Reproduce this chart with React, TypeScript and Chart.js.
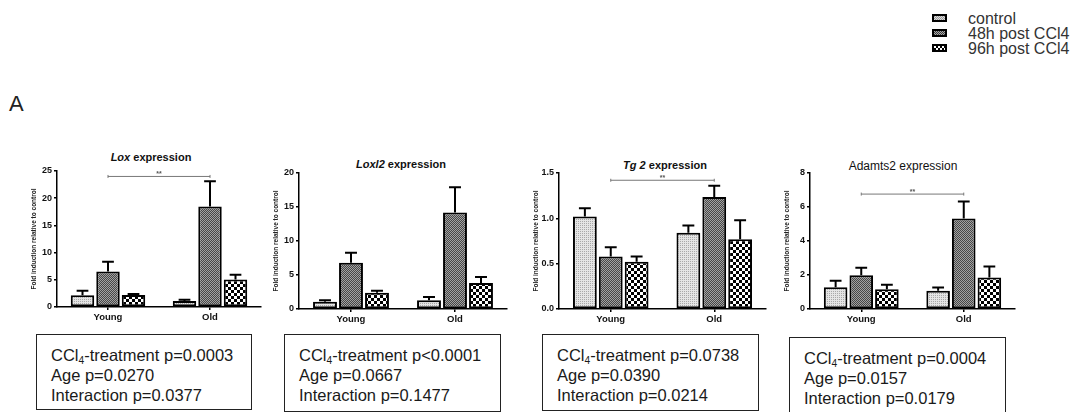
import React, { useEffect, useRef } from 'react';
import { Chart, registerables } from 'chart.js';

Chart.register(...registerables);

const GROUPS = ['Young', 'Old'];
const SERIES = ['control', '48h post CCl4', '96h post CCl4'];
const Y_TITLE = 'Fold induction relative to control';

// Lox
const LOX_CONTROL = [2.14, 1.1];
const LOX_CONTROL_SEM = [0.85, 0.25];
const LOX_48H = [6.54, 18.46];
const LOX_48H_SEM = [1.76, 4.64];
const LOX_96H = [2.2, 5.07];
const LOX_96H_SEM = [0.2, 0.86];
const LOX_Y = [25, 5, 0]; // max, step, decimals
const LOX_SIG = 24;

// Loxl2
const LOXL2_CONTROL = [1.08, 1.27];
const LOXL2_CONTROL_SEM = [0.19, 0.49];
const LOXL2_48H = [6.81, 14.2];
const LOXL2_48H_SEM = [1.47, 3.7];
const LOXL2_96H = [2.4, 3.82];
const LOXL2_96H_SEM = [0.3, 0.88];
const LOXL2_Y = [20, 5, 0];

// Tg 2
const TG2_CONTROL = [1.02, 0.84];
const TG2_CONTROL_SEM = [0.09, 0.08];
const TG2_48H = [0.58, 1.235];
const TG2_48H_SEM = [0.1, 0.125];
const TG2_96H = [0.52, 0.77];
const TG2_96H_SEM = [0.06, 0.21];
const TG2_Y = [1.5, 0.5, 1];
const TG2_SIG = 1.42;

// Adamts2
const ADAMTS2_CONTROL = [1.28, 1.08];
const ADAMTS2_CONTROL_SEM = [0.38, 0.18];
const ADAMTS2_48H = [1.99, 5.32];
const ADAMTS2_48H_SEM = [0.43, 1.01];
const ADAMTS2_96H = [1.16, 1.85];
const ADAMTS2_96H_SEM = [0.26, 0.65];
const ADAMTS2_Y = [8, 2, 0];
const ADAMTS2_SIG = 6.76;

const FONT = "'Liberation Sans', Arial, Helvetica, sans-serif";

function makeTile(size: number, draw: (c: CanvasRenderingContext2D) => void) {
  const cv = document.createElement('canvas');
  cv.width = size;
  cv.height = size;
  const c = cv.getContext('2d')!;
  draw(c);
  return cv;
}

function makePatterns(ctx: CanvasRenderingContext2D): CanvasPattern[] {
  const t1 = makeTile(2, (c) => {
    c.fillStyle = '#e4e4e4';
    c.fillRect(0, 0, 2, 2);
    c.fillStyle = '#a8a8a8';
    c.fillRect(0, 0, 1, 1);
  });
  const t2 = makeTile(2, (c) => {
    c.fillStyle = '#a2a2a2';
    c.fillRect(0, 0, 2, 2);
    c.fillStyle = '#474747';
    c.fillRect(0, 0, 1, 1);
    c.fillRect(1, 1, 1, 1);
  });
  const t3 = makeTile(6, (c) => {
    c.fillStyle = '#ffffff';
    c.fillRect(0, 0, 6, 6);
    c.fillStyle = '#000000';
    c.fillRect(0, 0, 3, 3);
    c.fillRect(3, 3, 3, 3);
  });
  return [t1, t2, t3].map((t) => ctx.createPattern(t, 'repeat')!);
}

type Area = { L: number; R: number; T: number; B: number };

const YW = 27;
const XH = 20;
const PT = 10;
const PR = 4;

function BarPanel(props: {
  means: number[][];
  sems: number[][];
  yCfg: number[];
  sig: number | null;
  area: Area;
}) {
  const { means, sems, yCfg, sig, area } = props;
  const ref = useRef<HTMLCanvasElement>(null);
  const w = area.R - area.L + YW + PR;
  const h = area.B - area.T + PT + XH;

  useEffect(() => {
    const canvas = ref.current!;
    const ctx = canvas.getContext('2d')!;
    const pats = makePatterns(ctx);
    const [yMax, yStep, dec] = yCfg;

    const errPlugin = {
      id: 'errbars',
      afterDatasetsDraw(chart: any) {
        const c = chart.ctx as CanvasRenderingContext2D;
        const ys = chart.scales.y;
        c.save();
        chart.data.datasets.forEach((_ds: any, i: number) => {
          const meta = chart.getDatasetMeta(i);
          meta.data.forEach((bar: any, j: number) => {
            const top = ys.getPixelForValue(means[i][j] + sems[i][j]);
            const cap = bar.width * 0.25;
            c.strokeStyle = '#000';
            c.lineWidth = 2;
            c.beginPath();
            c.moveTo(bar.x, bar.y);
            c.lineTo(bar.x, top);
            c.moveTo(bar.x - cap, top);
            c.lineTo(bar.x + cap, top);
            c.stroke();
          });
        });
        if (sig !== null) {
          const xs = chart.scales.x;
          const x0 = xs.getPixelForValue(0);
          const x1 = xs.getPixelForValue(1);
          const y = ys.getPixelForValue(sig);
          c.strokeStyle = '#777';
          c.lineWidth = 1;
          c.beginPath();
          c.moveTo(x0, y - 1.5);
          c.lineTo(x0, y + 1.5);
          c.moveTo(x0, y);
          c.lineTo(x1, y);
          c.moveTo(x1, y - 1.5);
          c.lineTo(x1, y + 1.5);
          c.stroke();
          c.fillStyle = '#555';
          c.font = `bold 7px ${FONT}`;
          c.textAlign = 'center';
          c.textBaseline = 'bottom';
          c.fillText('**', (x0 + x1) / 2, y + 1);
        }
        c.restore();
      },
    };

    const chart = new Chart(canvas, {
      type: 'bar',
      data: {
        labels: GROUPS,
        datasets: means.map((m, i) => ({
          label: SERIES[i],
          data: m,
          backgroundColor: pats[i] as any,
          borderColor: '#000',
          borderWidth: 2,
          borderSkipped: false,
          categoryPercentage: 0.75,
          barPercentage: 0.92,
        })),
      },
      options: {
        animation: false,
        responsive: false,
        maintainAspectRatio: false,
        layout: { padding: { top: PT, right: PR, left: 0, bottom: 0 } },
        plugins: { legend: { display: false }, tooltip: { enabled: false }, title: { display: false } },
        scales: {
          x: {
            grid: {
              display: true,
              drawOnChartArea: false,
              drawTicks: true,
              tickLength: 3,
              color: '#000',
              lineWidth: 1.5,
              offset: false,
            },
            border: { display: true, color: '#000', width: 1.5 },
            ticks: { color: '#111', font: { family: FONT, size: 9.5, weight: 'bold' }, padding: 2 },
            afterFit: (s: any) => {
              s.height = XH;
            },
          },
          y: {
            min: 0,
            max: yMax,
            ticks: {
              stepSize: yStep,
              color: '#111',
              font: { family: FONT, size: 9, weight: 'bold' },
              padding: 2,
              callback: (v: any) => Number(v).toFixed(dec),
            },
            grid: {
              display: true,
              drawOnChartArea: false,
              drawTicks: true,
              tickLength: 3,
              color: '#000',
              lineWidth: 1.5,
            },
            border: { display: true, color: '#000', width: 1.5 },
            title: {
              display: true,
              text: Y_TITLE,
              color: '#222',
              font: { family: FONT, size: 6.5, weight: 'bold' },
              padding: 0,
            },
            afterFit: (s: any) => {
              s.width = YW;
            },
          },
        },
      },
      plugins: [errPlugin],
    });
    return () => chart.destroy();
  }, []);

  return (
    <canvas
      ref={ref}
      width={w}
      height={h}
      style={{
        position: 'absolute',
        left: area.L - YW,
        top: area.T - PT,
        width: w,
        height: h,
      }}
    />
  );
}

function Title(props: { x: number; y: number; children: React.ReactNode; weight?: string; size?: number }) {
  const size = props.size ?? 11;
  return (
    <div
      style={{
        position: 'absolute',
        left: props.x,
        top: props.y - 6.5,
        transform: 'translateX(-50%)',
        whiteSpace: 'nowrap',
        fontSize: size,
        lineHeight: '12px',
        fontWeight: (props.weight ?? 'bold') as any,
        color: '#111',
      }}
    >
      {props.children}
    </div>
  );
}

function StatBox(props: { left: number; top: number; width: number; height: number; padL: number; padT: number; lines: string[] }) {
  const sub = { fontSize: '0.62em', verticalAlign: '-0.3em', lineHeight: 0 } as React.CSSProperties;
  return (
    <div
      style={{
        position: 'absolute',
        left: props.left,
        top: props.top,
        width: props.width,
        height: props.height,
        boxSizing: 'border-box',
        border: '1.5px solid #222',
        paddingLeft: props.padL,
        paddingTop: props.padT,
        fontSize: 16.5,
        lineHeight: '20px',
        color: '#1a1a1a',
        whiteSpace: 'nowrap',
      }}
    >
      <div>
        CCl<sub style={sub}>4</sub>
        {props.lines[0]}
      </div>
      <div>{props.lines[1]}</div>
      <div>{props.lines[2]}</div>
    </div>
  );
}

const SWATCH_BG = [
  'repeating-conic-gradient(#dcdcdc 0 25%, #9a9a9a 0 50%) 0 0/2px 2px',
  'repeating-conic-gradient(#3a3a3a 0 25%, #a8a8a8 0 50%) 0 0/2px 2px',
  'repeating-conic-gradient(#000 0 25%, #fff 0 50%) 0 0/4px 4px',
];
const LEGEND_Y = [18, 33, 48];

export default function App() {
  return (
    <div
      style={{
        position: 'absolute',
        left: 0,
        top: 0,
        width: 1075,
        height: 412,
        background: '#fff',
        overflow: 'hidden',
        fontFamily: FONT,
      }}
    >
      {SERIES.map((s, i) => (
        <React.Fragment key={s}>
          <div
            style={{
              position: 'absolute',
              left: 932,
              top: LEGEND_Y[i] - 4,
              width: 15,
              height: 8,
              boxSizing: 'border-box',
              border: '2px solid #000',
              background: SWATCH_BG[i],
            }}
          />
          <div
            style={{
              position: 'absolute',
              left: 968,
              top: LEGEND_Y[i] - 8.5,
              fontSize: 16,
              lineHeight: '17px',
              color: '#333',
              whiteSpace: 'nowrap',
            }}
          >
            {s}
          </div>
        </React.Fragment>
      ))}

      <div style={{ position: 'absolute', left: 9, top: 91, fontSize: 22, lineHeight: '26px', color: '#222' }}>A</div>

      <Title x={151} y={157}>
        <i>Lox</i> expression
      </Title>
      <Title x={401} y={164}>
        <i>Loxl2</i> expression
      </Title>
      <Title x={665} y={165}>
        <i>Tg 2</i> expression
      </Title>
      <Title x={903} y={166} weight="normal" size={12}>
        Adamts2 expression
      </Title>

      <BarPanel
        means={[LOX_CONTROL, LOX_48H, LOX_96H]}
        sems={[LOX_CONTROL_SEM, LOX_48H_SEM, LOX_96H_SEM]}
        yCfg={LOX_Y}
        sig={LOX_SIG}
        area={{ L: 57, R: 261, T: 171, B: 307 }}
      />
      <BarPanel
        means={[LOXL2_CONTROL, LOXL2_48H, LOXL2_96H]}
        sems={[LOXL2_CONTROL_SEM, LOXL2_48H_SEM, LOXL2_96H_SEM]}
        yCfg={LOXL2_Y}
        sig={null}
        area={{ L: 299, R: 507, T: 173, B: 309 }}
      />
      <BarPanel
        means={[TG2_CONTROL, TG2_48H, TG2_96H]}
        sems={[TG2_CONTROL_SEM, TG2_48H_SEM, TG2_96H_SEM]}
        yCfg={TG2_Y}
        sig={TG2_SIG}
        area={{ L: 559, R: 766, T: 173, B: 309 }}
      />
      <BarPanel
        means={[ADAMTS2_CONTROL, ADAMTS2_48H, ADAMTS2_96H]}
        sems={[ADAMTS2_CONTROL_SEM, ADAMTS2_48H_SEM, ADAMTS2_96H_SEM]}
        yCfg={ADAMTS2_Y}
        sig={ADAMTS2_SIG}
        area={{ L: 810, R: 1015, T: 173, B: 309 }}
      />

      <StatBox left={36} top={334} width={216} height={76} padL={14} padT={10}
        lines={['-treatment p=0.0003', 'Age p=0.0270', 'Interaction p=0.0377']} />
      <StatBox left={284} top={334} width={217} height={78} padL={14} padT={10}
        lines={['-treatment p<0.0001', 'Age p=0.0667', 'Interaction p=0.1477']} />
      <StatBox left={542} top={334} width={217} height={77} padL={14} padT={10}
        lines={['-treatment p=0.0738', 'Age p=0.0390', 'Interaction p=0.0214']} />
      <StatBox left={789} top={337} width={217} height={90} padL={14} padT={10}
        lines={['-treatment p=0.0004', 'Age p=0.0157', 'Interaction p=0.0179']} />
    </div>
  );
}
